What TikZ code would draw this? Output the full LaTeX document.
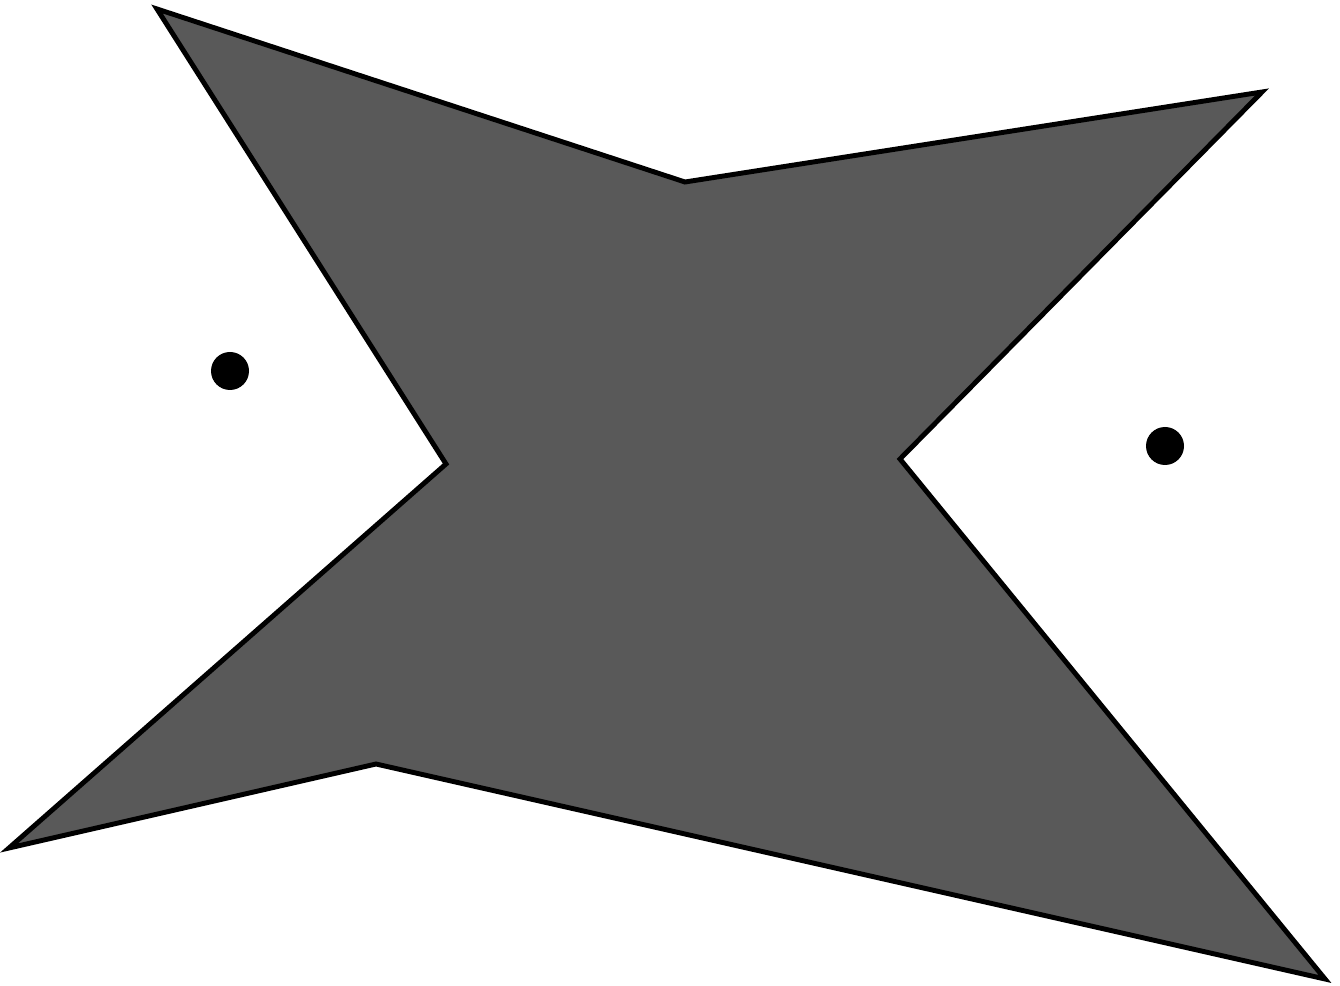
\documentclass[tikz,border=0pt]{standalone}
\usepackage{tikz}

\begin{document}
\begin{tikzpicture}[x=0.02cm, y=-0.02cm]
        \tikzstyle{star} = [draw=black, fill=black!65, line width=2.8pt, line join=miter]
        \tikzstyle{spot} = [fill=black]
        \useasboundingbox (0,0) rectangle (1340,986);
        % corners of the star
        \coordinate (tl) at (157,9);
        \coordinate (tm) at (685,182);
        \coordinate (tr) at (1262,92);
        \coordinate (rm) at (900,459);
        \coordinate (br) at (1325,979);
        \coordinate (bm) at (376,764);
        \coordinate (bl) at (9,848);
        \coordinate (lm) at (446,464);
        \draw[star] (tl)--(tm)--(tr)--(rm)--(br)--(bm)--(bl)--(lm)--cycle;
        % two dots
        \fill[spot] (230,371) circle (19);
        \fill[spot] (1165,446) circle (19);
    \end{tikzpicture}
\end{document}
